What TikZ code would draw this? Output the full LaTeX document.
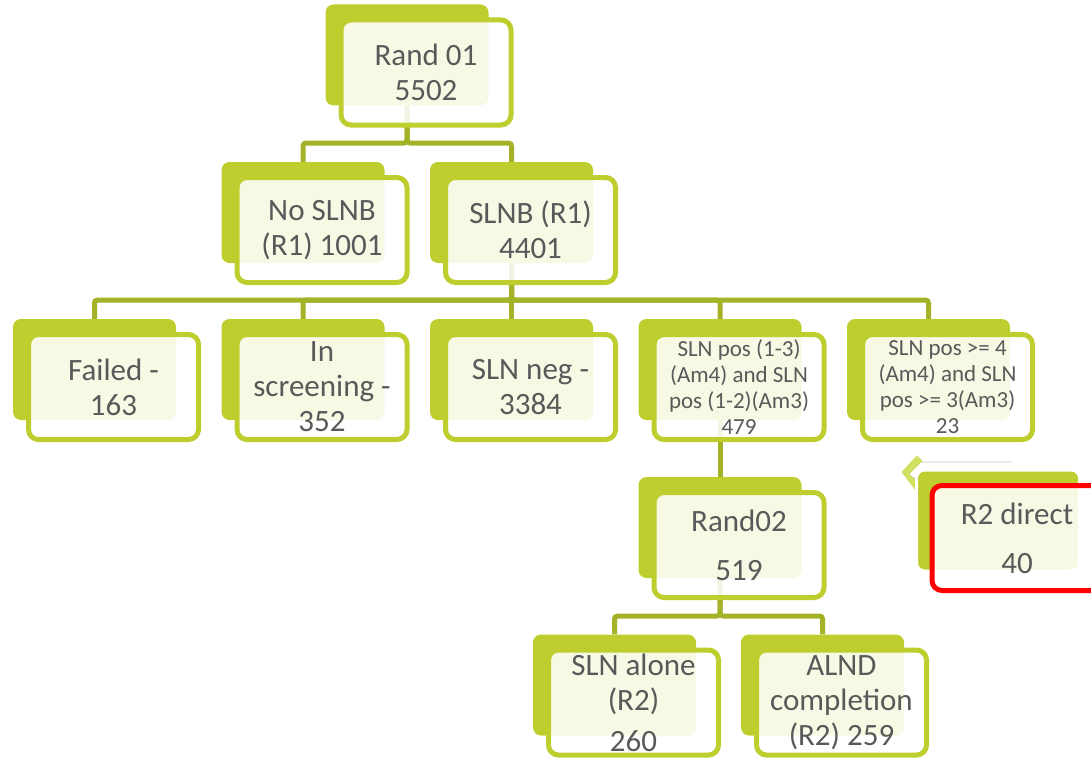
\documentclass[tikz,border=0pt]{standalone}
\usepackage{fontspec}
\setmainfont{Carlito}
\definecolor{leaf}{RGB}{191,206,47}
\definecolor{stem}{RGB}{163,178,38}
\definecolor{inkgray}{RGB}{89,89,89}
\definecolor{alert}{RGB}{255,0,0}
\definecolor{chev}{RGB}{212,224,96}
\begin{document}
\begin{tikzpicture}[x=1pt,y=-1pt,
  backbox/.style={fill=leaf,rounded corners=8pt,minimum width=163pt,minimum height=101pt,inner sep=0pt},
  frontbox/.style={draw=leaf,line width=5pt,fill=white,fill opacity=0.88,text opacity=1,rounded corners=10pt,
    minimum width=170pt,minimum height=105pt,inner sep=0pt,align=center,text=inkgray,font={\fontsize{31}{35}\selectfont}},
  smalltext/.style={font={\fontsize{23}{26}\selectfont}},
  branch/.style={draw=stem,line width=5pt,rounded corners=3pt}]
\useasboundingbox (0,0) rectangle (1091,757);
\clip (0,0) rectangle (1091,757);

\coordinate (bus1) at (0,143);
\coordinate (bus2) at (0,300);
\coordinate (bus3) at (0,616);

\draw[black!8,line width=1.2pt] (918,462) -- (1012,462);
\fill[black!18] (904,475) -- (910,481) -- (918,490) -- (918,478) -- cycle;
\filldraw[fill=chev,draw=leaf!80!white,line width=0.6pt] (902,472) -- (917,456) -- (922,461) -- (909,474) -- (922,488) -- (917,492) -- cycle;

\node[backbox] (rand1b) at (407,55) {};
\node[backbox] (noslnbb) at (303,212.5) {};
\node[backbox] (slnbb) at (511.5,212.5) {};
\node[backbox] (failb) at (94.5,369.5) {};
\node[backbox] (screenb) at (303,369.5) {};
\node[backbox] (negb) at (511.5,369.5) {};
\node[backbox] (posb) at (720,369.5) {};
\node[backbox] (pos4b) at (928.5,369.5) {};
\node[backbox] (rand2b) at (720,527.5) {};
\node[backbox,draw=white,line width=3pt] (directb) at (998,520.5) {};
\node[backbox] (aloneb) at (614.5,685) {};
\node[backbox] (alndb) at (822.5,685) {};

\foreach \c in {noslnbb,slnbb}
  \draw[branch] (rand1b.south) -- (rand1b.south |- bus1) -| (\c.north);
\foreach \c in {failb,screenb,negb,posb,pos4b}
  \draw[branch] (slnbb.south) -- (slnbb.south |- bus2) -| (\c.north);
\draw[branch] (posb.south) -- (rand2b.north);
\foreach \c in {aloneb,alndb}
  \draw[branch] (rand2b.south) -- (rand2b.south |- bus3) -| (\c.north);

\node[frontbox] (rand1) at (426,72.5) {Rand 01\\5502};
\node[frontbox] (noslnb) at (322,230) {No SLNB\\(R1) 1001};
\node[frontbox] (slnb) at (530.5,230) {SLNB (R1)\\4401};
\node[frontbox] (fail) at (113.5,387) {Failed -\\163};
\node[frontbox] (screen) at (322,387) {In\\screening -\\352};
\node[frontbox] (neg) at (530.5,387) {SLN neg -\\3384};
\node[frontbox,smalltext] (pos) at (739,387) {SLN pos (1-3)\\(Am4) and SLN\\pos (1-2)(Am3)\\479};
\node[frontbox,smalltext] (pos4) at (947.5,387) {SLN pos >= 4\\(Am4) and SLN\\pos >= 3(Am3)\\23};
\node[frontbox] (rand2) at (739,545) {Rand02\\[14pt]519};
\node[frontbox,draw=alert] (direct) at (1017,538) {R2 direct\\[14pt]40};
\node[frontbox] (alone) at (633.5,702.5) {SLN alone\\(R2)\\[6pt]260};
\node[frontbox] (alnd) at (841.5,702.5) {ALND\\completion\\(R2) 259};
\end{tikzpicture}
\end{document}
